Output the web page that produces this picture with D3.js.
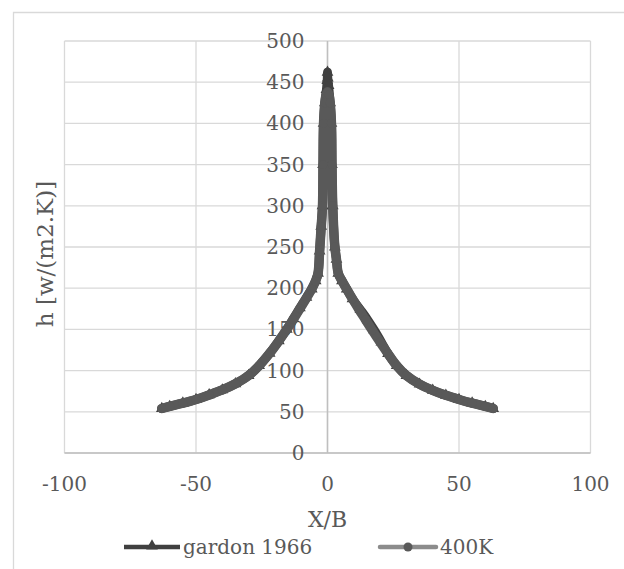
<!DOCTYPE html>
<html>
<head>
<meta charset="utf-8">
<script src="https://cdn.jsdelivr.net/npm/d3@7"></script>
<style>
  body { margin: 0; background: #fff; }
  text { font-family: "DejaVu Serif", serif; fill: #595959; }
</style>
</head>
<body>
<svg width="624" height="569"></svg>
<script>
// x/B positions and h values
var gardonX = [-63, -60, -55, -50, -45, -40, -35, -30, -26, -22, -18.5, -15.5, -13, -10.5, -8, -6, -4.5, -3.6, -3, -2.4, -1.9, -1.7, -1.5, -1, -0.4, -0.1, 0,
               0.1, 0.4, 1, 1.5, 1.7, 2, 2.8, 3.4, 4.1, 5.5, 7.3, 9.5, 12.5, 15.3, 17.8, 20.5, 23, 26.3, 30, 35, 40, 45, 50, 55, 60, 63];
var gardonH = [54, 56.5, 60.5, 65, 70.5, 76.5, 84, 94, 106, 121, 136, 150, 163, 176, 189, 199, 209, 218, 245, 275, 300, 350, 400, 425, 441, 452, 462,
               455, 446, 425, 400, 350, 300, 250, 235, 218, 209, 199, 187, 174, 161.5, 149, 134.5, 120.5, 106, 94, 83.5, 76, 70, 65, 60.5, 56.5, 54];

var k400X = [-63, -60, -55, -50, -45, -40, -35, -30, -26, -22, -18.5, -15.5, -13, -10.5, -8, -6, -4.5, -3.6, -3, -2.4, -1.9, -1.7, -1.5, -1, -0.5, 0,
             0.5, 1, 1.5, 1.7, 2, 2.8, 3.4, 4.1, 5.5, 7.3, 9.5, 12, 14.5, 17, 20, 23, 26.3, 30, 35, 40, 45, 50, 55, 60, 63];
var k400H = [54, 56.5, 60.5, 65, 70.5, 76.5, 84, 94, 106, 121, 136, 150, 162, 175, 188, 199, 209, 218, 245, 275, 300, 350, 400, 425, 435, 438,
             435, 425, 400, 350, 300, 250, 235, 218, 209, 199, 187, 174, 161.5, 149, 134.5, 120.5, 106, 94, 83.5, 76, 70, 65, 60.5, 56.5, 54];

var xTicks = [-100, -50, 0, 50, 100];
var yTicks = [0, 50, 100, 150, 200, 250, 300, 350, 400, 450, 500];
var seriesNames = ["gardon 1966", "400K"];

var svg = d3.select("svg");

// chart border (only top and left show inside the window)
svg.append("path")
    .attr("d", "M13.5,700V12.5H700")
    .attr("fill", "none")
    .attr("stroke", "#d9d9d9")
    .attr("stroke-width", 1.3);

var x = d3.scaleLinear().domain([-100, 100]).range([64.5, 590.5]);
var y = d3.scaleLinear().domain([0, 500]).range([453, 41]);

// gridlines
svg.selectAll(".vgrid")
    .data(xTicks)
    .enter()
    .append("line")
    .attr("x1", d => x(d)).attr("x2", d => x(d))
    .attr("y1", y(0)).attr("y2", y(500))
    .attr("stroke", "#d9d9d9")
    .attr("stroke-width", 1.3);

svg.selectAll(".hgrid")
    .data(yTicks)
    .enter()
    .append("line")
    .attr("x1", x(-100)).attr("x2", x(100))
    .attr("y1", d => y(d)).attr("y2", d => y(d))
    .attr("stroke", "#d9d9d9")
    .attr("stroke-width", 1.3);

// axis lines through zero
svg.append("line")
    .attr("x1", x(-100)).attr("x2", x(100))
    .attr("y1", y(0)).attr("y2", y(0))
    .attr("stroke", "#bfbfbf").attr("stroke-width", 1.5);
svg.append("line")
    .attr("x1", x(0)).attr("x2", x(0))
    .attr("y1", y(0)).attr("y2", y(500))
    .attr("stroke", "#bfbfbf").attr("stroke-width", 1.5);

// tick labels
svg.selectAll(".xlab")
    .data(xTicks)
    .enter()
    .append("text")
    .attr("x", d => x(d))
    .attr("y", 491)
    .attr("text-anchor", "middle")
    .attr("font-size", 20)
    .text(d => d);

svg.selectAll(".ylab")
    .data(yTicks)
    .enter()
    .append("text")
    .attr("x", x(0) - 23)
    .attr("y", d => y(d) + 7)
    .attr("text-anchor", "end")
    .attr("font-size", 20)
    .text(d => d);

// axis titles
svg.append("text")
    .attr("x", x(0))
    .attr("y", 527)
    .attr("text-anchor", "middle")
    .attr("font-size", 22)
    .text("X/B");

svg.append("text")
    .attr("transform", "translate(53,254) rotate(-90)")
    .attr("text-anchor", "middle")
    .attr("font-size", 23)
    .text("h [w/(m2.K)]");

var line = d3.line()
    .x(d => x(d[0]))
    .y(d => y(d[1]))
    .curve(d3.curveCatmullRom);

var gardon = gardonX.map((v, i) => [v, gardonH[i]]);
var k400 = k400X.map((v, i) => [v, k400H[i]]);

var tri = d3.symbol().type(d3.symbolTriangle).size(60);

// gardon 1966
svg.append("path")
    .attr("d", line(gardon))
    .attr("fill", "none")
    .attr("stroke", "#404040")
    .attr("stroke-width", 9)
    .attr("stroke-linejoin", "round")
    .attr("stroke-linecap", "round");

svg.selectAll(".tri")
    .data(gardon)
    .enter()
    .append("path")
    .attr("d", tri)
    .attr("transform", d => "translate(" + x(d[0]) + "," + y(d[1]) + ")")
    .attr("fill", "#404040");

// 400K
svg.append("path")
    .attr("d", line(k400))
    .attr("fill", "none")
    .attr("stroke", "#595959")
    .attr("stroke-width", 9.5)
    .attr("stroke-linejoin", "round")
    .attr("stroke-linecap", "round");

svg.selectAll(".dot")
    .data(k400)
    .enter()
    .append("circle")
    .attr("cx", d => x(d[0]))
    .attr("cy", d => y(d[1]))
    .attr("r", 4.5)
    .attr("fill", "#595959");

// legend
var lg = svg.append("g");
lg.append("line")
    .attr("x1", 124).attr("x2", 180).attr("y1", 547).attr("y2", 547)
    .attr("stroke", "#404040").attr("stroke-width", 4.5);
lg.append("path")
    .attr("d", tri)
    .attr("transform", "translate(152,546)")
    .attr("fill", "#404040");
lg.append("text")
    .attr("x", 183).attr("y", 554)
    .attr("font-size", 20)
    .text(seriesNames[0]);

lg.append("line")
    .attr("x1", 380).attr("x2", 436).attr("y1", 547).attr("y2", 547)
    .attr("stroke", "#8c8c8c").attr("stroke-width", 4.5)
    .attr("stroke-linecap", "round");
lg.append("circle")
    .attr("cx", 408).attr("cy", 547).attr("r", 4.5)
    .attr("fill", "#595959");
lg.append("text")
    .attr("x", 440).attr("y", 554)
    .attr("font-size", 20)
    .text(seriesNames[1]);
</script>
</body>
</html>
